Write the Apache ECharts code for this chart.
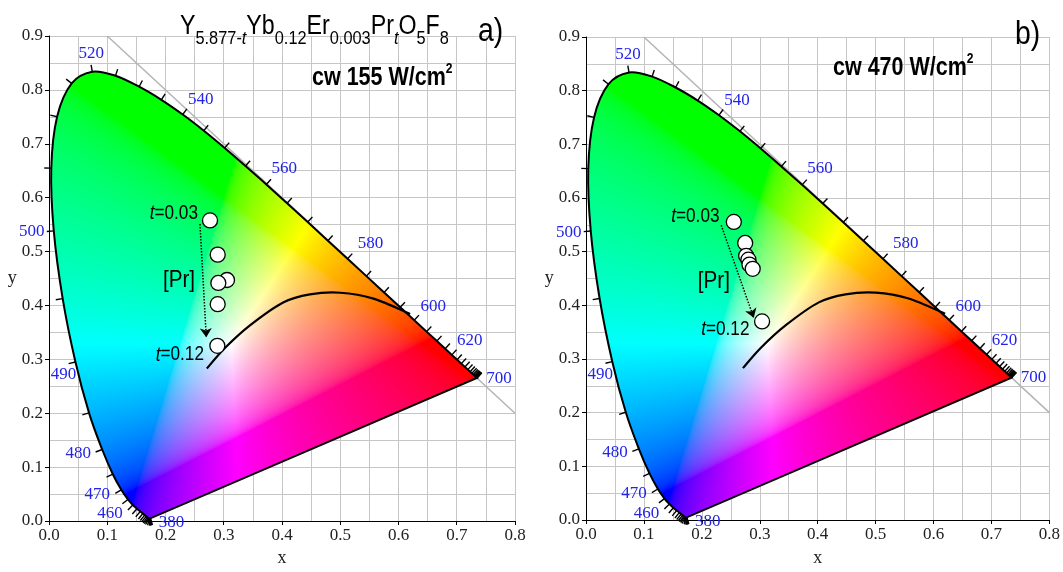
<!DOCTYPE html>
<html>
<head>
<meta charset="utf-8">
<script src="https://cdn.jsdelivr.net/npm/echarts@6/dist/echarts.min.js"></script>
<style>
html,body{margin:0;padding:0;background:#fff}
#main{width:1063px;height:572px}
</style>
</head>
<body>
<div id="main"></div>
<script>
// CIE 1931 spectral locus, 5 nm steps
const locusNm = [380,385,390,395,400,405,410,415,420,425,430,435,440,445,450,455,460,465,470,475,480,485,490,495,500,505,510,515,520,525,530,535,540,545,550,555,560,565,570,575,580,585,590,595,600,605,610,615,620,625,630,635,640,645,650,655,660,665,670,675,680,685,690,695,700];
const locusX = [0.1741,0.1740,0.1738,0.1736,0.1733,0.1730,0.1726,0.1721,0.1714,0.1703,0.1689,0.1669,0.1644,0.1611,0.1566,0.1510,0.1440,0.1355,0.1241,0.1096,0.0913,0.0687,0.0454,0.0235,0.0082,0.0039,0.0139,0.0389,0.0743,0.1142,0.1547,0.1929,0.2296,0.2658,0.3016,0.3373,0.3731,0.4087,0.4441,0.4788,0.5125,0.5448,0.5752,0.6029,0.6270,0.6482,0.6658,0.6801,0.6915,0.7006,0.7079,0.7140,0.7190,0.7230,0.7260,0.7283,0.7300,0.7311,0.7320,0.7327,0.7334,0.7340,0.7344,0.7346,0.7347];
const locusY = [0.0050,0.0050,0.0049,0.0049,0.0048,0.0048,0.0048,0.0048,0.0051,0.0058,0.0069,0.0086,0.0109,0.0138,0.0177,0.0227,0.0297,0.0399,0.0578,0.0868,0.1327,0.2007,0.2950,0.4127,0.5384,0.6548,0.7502,0.8120,0.8338,0.8262,0.8059,0.7816,0.7543,0.7243,0.6923,0.6589,0.6245,0.5896,0.5547,0.5202,0.4866,0.4544,0.4242,0.3965,0.3725,0.3514,0.3340,0.3197,0.3083,0.2993,0.2920,0.2859,0.2809,0.2770,0.2740,0.2717,0.2700,0.2689,0.2680,0.2673,0.2666,0.2660,0.2656,0.2654,0.2653];
const labelNm = [380,460,470,480,490,500,520,540,560,580,600,620,700];

// black curve
const curveX = [0.271,0.302,0.345,0.402,0.448,0.500,0.557,0.620];
const curveY = [0.283,0.321,0.363,0.4055,0.4205,0.4236,0.4127,0.3843];

// x + y = 1 guide
const guideX = [0.1, 0.8];
const guideY = [0.9, 0.2];

// measured points
const ptsAX = [0.2764,0.2896,0.3056,0.2907,0.2896,0.2890];
const ptsAY = [0.5577,0.4943,0.4472,0.4417,0.4024,0.3250];
const ptsBX = [0.2552,0.2748,0.2765,0.2804,0.2822,0.2878,0.3040];
const ptsBY = [0.5554,0.5162,0.4922,0.4850,0.4760,0.4681,0.3700];

// [Pr] arrows: start, end
const arrowA = [[0.2592,0.551],[0.2700,0.341]];
const arrowB = [[0.2334,0.5493],[0.2896,0.3767]];

// annotation anchors: t=0.03 (right edge), [Pr] (centre), t=0.12 (right edge)
const noteAX = [0.2558,0.2232,0.2661];
const noteAY = [0.571,0.4459,0.3081];
const noteBX = [0.2305,0.2207,0.2822];
const noteBY = [0.5655,0.4440,0.3551];

// label offsets in px from the locus point (layout only)
const labelShift = {380:[21,4],460:[-23,9],470:[-24,5],480:[-24,4],490:[-12,13],500:[-22,1],
  520:[-1,-18],540:[18,-15],560:[18,-16],580:[23,-15],600:[19,-14],620:[18,-14],700:[22,0]};

const SANS = "'Liberation Sans',Arial,sans-serif";
const SERIF = "'Liberation Serif','DejaVu Serif',serif";
const NARROW = 0.86;   // horizontal squeeze for the narrow sans used in the figure

var chart = echarts.init(document.getElementById('main'));

function xyColor(x, y) {
    if (y <= 0.0001) y = 0.0001;
    const X = x / y, Z = (1 - x - y) / y;
    let r = 3.2406 * X - 1.5372 - 0.4986 * Z;
    let g = -0.9689 * X + 1.8758 + 0.0415 * Z;
    let b = 0.0557 * X - 0.2040 + 1.0570 * Z;
    r = Math.max(r, 0); g = Math.max(g, 0); b = Math.max(b, 0);
    const m = Math.max(r, g, b) || 1;
    const gam = v => {
        v = v / m;
        return v <= 0.0031308 ? 12.92 * v : 1.055 * Math.pow(v, 1 / 2.4) - 0.055;
    };
    return [gam(r) * 255, gam(g) * 255, gam(b) * 255];
}

// catmull-rom through pixel points, as svg path data
function spline(pts, closed) {
    let d = 'M ' + pts[0][0] + ' ' + pts[0][1];
    for (let i = 0; i < pts.length - 1; i++) {
        const p0 = pts[i - 1] || pts[i], p1 = pts[i], p2 = pts[i + 1], p3 = pts[i + 2] || pts[i + 1];
        const c1x = p1[0] + (p2[0] - p0[0]) / 6, c1y = p1[1] + (p2[1] - p0[1]) / 6;
        const c2x = p2[0] - (p3[0] - p1[0]) / 6, c2y = p2[1] - (p3[1] - p1[1]) / 6;
        d += ' C ' + c1x + ' ' + c1y + ' ' + c2x + ' ' + c2y + ' ' + p2[0] + ' ' + p2[1];
    }
    if (closed) d += ' Z';
    return d;
}

var fillCache = {};
function fillItem(params, api) {
    const p0 = api.coord([0, 0]), p1 = api.coord([0.8, 0.9]);
    const left = p0[0], top = p1[1];
    const w = Math.round(p1[0] - p0[0]), h = Math.round(p0[1] - p1[1]);
    const pts = locusX.map((lx, n) => api.coord([lx, locusY[n]]));
    const d = spline(pts, true);
    const key = left + ',' + top + ',' + w + 'x' + h;
    if (!fillCache[key]) {
        const src = document.createElement('canvas');
        src.width = w; src.height = h;
        const sctx = src.getContext('2d');
        const img = sctx.createImageData(w, h);
        for (let j = 0; j < h; j++) {
            for (let i = 0; i < w; i++) {
                const c = xyColor((i + 0.5) / w * 0.8, 0.9 - (j + 0.5) / h * 0.9);
                const k = (j * w + i) * 4;
                img.data[k] = c[0]; img.data[k + 1] = c[1]; img.data[k + 2] = c[2]; img.data[k + 3] = 255;
            }
        }
        sctx.putImageData(img, 0, 0);
        const out = document.createElement('canvas');
        out.width = w; out.height = h;
        const ctx = out.getContext('2d');
        ctx.translate(-left, -top);
        ctx.clip(new Path2D(d));
        ctx.setTransform(1, 0, 0, 1, 0, 0);
        ctx.drawImage(src, 0, 0);
        fillCache[key] = out;
    }
    return {type: 'group', children: [
        {type: 'image', style: {image: fillCache[key], x: left, y: top, width: w, height: h}},
        {type: 'path', shape: {pathData: d}, style: {fill: 'none', stroke: '#000', lineWidth: 2}}
    ]};
}

function curveItem(params, api) {
    const pts = curveX.map((cx, n) => api.coord([cx, curveY[n]]));
    return {type: 'path', shape: {pathData: spline(pts, false)},
        style: {fill: 'none', stroke: '#000', lineWidth: 2.2}};
}

function outward(api, i) {
    const n = locusX.length;
    const a = api.coord([locusX[Math.max(i - 1, 0)], locusY[Math.max(i - 1, 0)]]);
    const b = api.coord([locusX[Math.min(i + 1, n - 1)], locusY[Math.min(i + 1, n - 1)]]);
    const p = api.coord([locusX[i], locusY[i]]);
    const wp = api.coord([0.3127, 0.329]);
    let tx = b[0] - a[0], ty = b[1] - a[1];
    const L = Math.hypot(tx, ty) || 1;
    let nx = ty / L, ny = -tx / L;
    if ((p[0] - wp[0]) * nx + (p[1] - wp[1]) * ny < 0) { nx = -nx; ny = -ny; }
    return [p, nx, ny];
}

function tickItem(params, api) {
    const o = outward(api, params.dataIndex);
    const p = o[0];
    return {type: 'line', shape: {x1: p[0], y1: p[1], x2: p[0] + o[1] * 7, y2: p[1] + o[2] * 7},
        style: {stroke: '#000', lineWidth: 1.4}};
}

function labelItem(params, api) {
    const nm = labelNm[params.dataIndex];
    const p = api.coord([api.value(0), api.value(1)]);
    const s = labelShift[nm];
    return {type: 'text', x: p[0] + s[0], y: p[1] + s[1],
        style: {text: String(nm), fill: '#2424e8', fontSize: 17, fontFamily: SERIF, align: 'center', verticalAlign: 'middle'}};
}

function panel(k, px, py, arrow) {
    const locusData = locusX.map((v, i) => [v, locusY[i]]);
    const labelData = labelNm.map(nm => {
        const i = locusNm.indexOf(nm);
        return [locusX[i], locusY[i]];
    });
    return [
        {type: 'line', xAxisIndex: k, yAxisIndex: k, data: guideX.map((v, i) => [v, guideY[i]]),
            showSymbol: false, silent: true, z: 1, lineStyle: {color: '#b4b4b4', width: 1.5}},
        {type: 'custom', xAxisIndex: k, yAxisIndex: k, data: [[0, 0]], renderItem: fillItem, silent: true, z: 2},
        {type: 'custom', xAxisIndex: k, yAxisIndex: k, data: locusData, renderItem: tickItem, silent: true, z: 3},
        {type: 'custom', xAxisIndex: k, yAxisIndex: k, data: labelData, renderItem: labelItem, silent: true, z: 3},
        {type: 'custom', xAxisIndex: k, yAxisIndex: k, data: [[0, 0]], renderItem: curveItem, silent: true, z: 4},
        {type: 'scatter', xAxisIndex: k, yAxisIndex: k, data: px.map((v, i) => [v, py[i]]),
            symbolSize: 15, z: 6, itemStyle: {color: '#fff', borderColor: '#000', borderWidth: 1.3, opacity: 1},
            markLine: {silent: true, symbol: ['none', 'arrow'], symbolSize: 9, label: {show: false},
                lineStyle: {type: 'dotted', color: '#000', width: 1.5},
                data: [[{coord: arrow[0]}, {coord: arrow[1]}]]}}
    ];
}

function xAx(k, gap) {
    return {type: 'value', gridIndex: k, min: 0, max: 0.8, interval: 0.1,
        name: 'x', nameLocation: 'middle', nameGap: gap,
        nameTextStyle: {fontFamily: SERIF, fontSize: 18, color: '#222'},
        axisLine: {lineStyle: {color: '#000', width: 1}},
        axisTick: {show: true, length: 4, lineStyle: {color: '#000'}},
        axisLabel: {fontFamily: SERIF, fontSize: 17, color: '#222', margin: 6, formatter: v => v.toFixed(1)},
        splitLine: {lineStyle: {color: '#c6c6c6', width: 1}},
        minorTick: {show: false, splitNumber: 2},
        minorSplitLine: {show: true, lineStyle: {color: '#c6c6c6', width: 1}}};
}
function yAx(k, gap) {
    return {type: 'value', gridIndex: k, min: 0, max: 0.9, interval: 0.1,
        name: 'y', nameLocation: 'middle', nameGap: gap, nameRotate: 0,
        nameTextStyle: {fontFamily: SERIF, fontSize: 18, color: '#222'},
        axisLine: {show: true, lineStyle: {color: '#000', width: 1}},
        axisTick: {show: true, length: 4, lineStyle: {color: '#000'}},
        axisLabel: {fontFamily: SERIF, fontSize: 17, color: '#222', margin: 6, formatter: v => v.toFixed(1)},
        splitLine: {lineStyle: {color: '#c6c6c6', width: 1}},
        minorTick: {show: false, splitNumber: 2},
        minorSplitLine: {show: true, lineStyle: {color: '#c6c6c6', width: 1}}};
}

const titleRich = {
    m: {fontSize: 27, lineHeight: 27, fontFamily: SANS, color: '#111', verticalAlign: 'top'},
    s: {fontSize: 19, lineHeight: 19, fontFamily: SANS, color: '#111', verticalAlign: 'top', padding: [16, 0, 0, 0]},
    si: {fontSize: 19, lineHeight: 19, fontFamily: SANS, fontStyle: 'italic', color: '#111', verticalAlign: 'top', padding: [16, 0, 0, 0]}
};
const cwRich = {
    b: {fontSize: 25, lineHeight: 26, fontFamily: SANS, fontWeight: 'bold', color: '#111', verticalAlign: 'top', padding: [4, 0, 0, 0]},
    p: {fontSize: 14, lineHeight: 14, fontFamily: SANS, fontWeight: 'bold', color: '#111', verticalAlign: 'top'}
};
const tRich = {
    i: {fontStyle: 'italic', fontSize: 20, fontFamily: SANS, color: '#111'},
    n: {fontSize: 20, fontFamily: SANS, color: '#111'},
    p: {fontSize: 24, fontFamily: SANS, color: '#111'}
};

function squeezed(x, y, text, rich, align, vAlign) {
    return {type: 'text', x: x, y: y, scaleX: NARROW, z: 10, silent: true,
        style: {x: 0, y: 0, text: text, rich: rich, align: align, verticalAlign: vAlign}};
}

const option = {
    animation: false,
    backgroundColor: '#fff',
    grid: [
        {left: 49, top: 36, width: 466, height: 496},
        {left: 586, top: 37, width: 465, height: 499}
    ],
    xAxis: [xAx(0, 28), xAx(1, 29)],
    yAxis: [yAx(0, 29), yAx(1, 30)],
    series: panel(0, ptsAX, ptsAY, arrowA).concat(panel(1, ptsBX, ptsBY, arrowB))
};
chart.setOption(option);

// text annotations, anchored in data space of each panel
const notes = [
    [0, noteAX, noteAY],
    [1, noteBX, noteBY]
];
const noteText = ['{i|t}{n|=0.03}', '{p|[Pr]}', '{i|t}{n|=0.12}'];
const noteAlign = ['right', 'center', 'right'];
const graphics = [
    squeezed(180, 13, '{m|Y}{s|5.877-}{si|t}{m|Yb}{s|0.12}{m|Er}{s|0.003}{m|Pr}{si|t}{m|O}{s|5}{m|F}{s|8}', titleRich, 'left', 'top'),
    squeezed(478, 15, '{a|a)}', {a: {fontSize: 33, fontFamily: SANS, color: '#111'}}, 'left', 'top'),
    squeezed(312, 62, '{b|cw 155 W/cm}{p|2}', cwRich, 'left', 'top'),
    squeezed(1015, 18, '{a|b)}', {a: {fontSize: 33, fontFamily: SANS, color: '#111'}}, 'left', 'top'),
    squeezed(833, 52, '{b|cw 470 W/cm}{p|2}', cwRich, 'left', 'top')
];
notes.forEach(([k, nx, ny]) => {
    nx.forEach((v, i) => {
        const p = chart.convertToPixel({gridIndex: k}, [v, ny[i]]);
        graphics.push(squeezed(p[0], p[1], noteText[i], tRich, noteAlign[i], 'middle'));
    });
});
chart.setOption({graphic: graphics});
</script>
</body>
</html>
